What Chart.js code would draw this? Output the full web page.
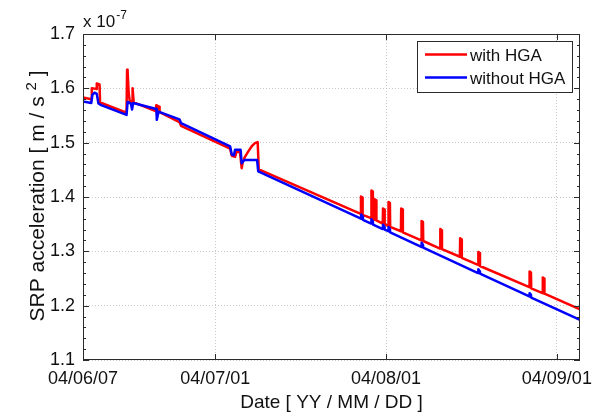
<!DOCTYPE html>
<html>
<head>
<meta charset="utf-8">
<script src="https://cdn.jsdelivr.net/npm/chart.js@4/dist/chart.umd.min.js"></script>
<style>
  html, body { margin: 0; padding: 0; background: #fff; }
  canvas { display: block; }
</style>
</head>
<body>
<canvas id="c" width="610" height="417"></canvas>
<script>
// x values are days elapsed since 2004-06-07; y values in units of 1e-7 m/s^2
const tickDays = [0, 24, 55, 86];
const tickLabels = ['04/06/07', '04/07/01', '04/08/01', '04/09/01'];
const yMajorStep = 0.1;
const yMinorStep = 0.02;

const redDays = [
  0, 1.5, 1.6, 2.4, 2.5, 3.0, 3.1, 7.9, 8.0, 8.1, 8.3, 8.5, 8.9, 9.0, 9.2,
  13.2, 13.3, 13.8, 13.9, 17.5, 17.8, 26.7, 27.0, 27.6, 27.9, 28.5, 28.8,
  29.0, 29.4, 30.0, 30.6, 31.2, 31.7, 31.9,
  50.4, 50.45, 50.7, 50.75,
  52.3, 52.35, 52.6, 52.65,
  52.9, 52.95, 53.2, 53.25,
  54.4, 54.45, 54.7, 54.75,
  55.4, 55.45, 55.7, 55.75,
  57.7, 57.75, 58.0, 58.05,
  61.4, 61.45, 61.7, 61.75,
  64.8, 64.85, 65.1, 65.15,
  68.4, 68.45, 68.7, 68.75,
  71.7, 71.75, 72.0, 72.05,
  81.0, 81.05, 81.3, 81.35,
  83.4, 83.45, 83.7, 83.75,
  90.2
];
const redVals = [
  1.583, 1.580, 1.600, 1.599, 1.609, 1.607, 1.574, 1.555, 1.634, 1.630, 1.590, 1.576, 1.575, 1.600, 1.574,
  1.558, 1.569, 1.566, 1.556, 1.538, 1.531, 1.489, 1.476, 1.474, 1.484, 1.482, 1.453,
  1.465, 1.474, 1.484, 1.493, 1.499, 1.501, 1.451,
  1.369, 1.401, 1.399, 1.367,
  1.361, 1.412, 1.410, 1.359,
  1.358, 1.396, 1.394, 1.357,
  1.351, 1.379, 1.377, 1.350,
  1.347, 1.391, 1.389, 1.345,
  1.337, 1.379, 1.377, 1.335,
  1.320, 1.356, 1.354, 1.319,
  1.305, 1.341, 1.339, 1.304,
  1.290, 1.324, 1.322, 1.288,
  1.275, 1.299, 1.297, 1.273,
  1.234, 1.263, 1.261, 1.232,
  1.223, 1.252, 1.250, 1.222,
  1.193
];

const blueDays = [
  0, 1.5, 1.7, 2.1, 2.5, 2.8, 3.3, 7.9, 8.1, 8.7, 8.9, 9.1,
  13.3, 13.4, 13.7, 17.5, 17.8, 26.7, 27.0, 27.4, 27.6, 28.6, 28.8, 29.3, 31.6, 31.8,
  50.45, 50.5, 50.75, 50.8,
  52.3, 52.35, 52.6, 52.65,
  54.4, 54.45, 54.7, 54.75,
  55.4, 55.45, 55.7, 55.75,
  61.4, 61.45, 61.7, 61.75,
  71.7, 71.75, 72.0, 72.05,
  81.0, 81.05, 81.3, 81.35,
  90.2
];
const blueVals = [
  1.576, 1.573, 1.588, 1.592, 1.590, 1.572, 1.569, 1.551, 1.575, 1.572, 1.561, 1.573,
  1.562, 1.542, 1.557, 1.543, 1.536, 1.493, 1.478, 1.477, 1.487, 1.487, 1.462, 1.468, 1.468, 1.447,
  1.360, 1.368, 1.364, 1.358,
  1.351, 1.359, 1.355, 1.349,
  1.341, 1.349, 1.345, 1.340,
  1.337, 1.345, 1.341, 1.335,
  1.308, 1.316, 1.312, 1.307,
  1.260, 1.267, 1.263, 1.259,
  1.217, 1.223, 1.220, 1.215,
  1.174
];

const FONT = "'Liberation Sans', Arial, Helvetica, sans-serif";
const toPoints = (xs, ys) => xs.map((d, i) => ({ x: d, y: ys[i] }));

// Axes box, inward tick marks, y-axis title, exponent and legend
const decorations = {
  id: 'decorations',
  afterDatasetsDraw(chart) {
    const { ctx, chartArea: a, scales: { x, y } } = chart;
    ctx.save();
    ctx.strokeStyle = '#2b2b2b';
    ctx.lineWidth = 1;
    ctx.strokeRect(a.left + 0.5, a.top + 0.5, a.right - a.left - 1, a.bottom - a.top - 1);

    ctx.beginPath();
    const nMinor = Math.round((y.max - y.min) / yMinorStep);
    for (let k = 0; k <= nMinor; k++) {
      const v = y.min + k * yMinorStep;
      const py = Math.round(y.getPixelForValue(v)) + 0.5;
      const len = (k % Math.round(yMajorStep / yMinorStep) === 0) ? 6 : 3;
      ctx.moveTo(a.left, py); ctx.lineTo(a.left + len, py);
      ctx.moveTo(a.right, py); ctx.lineTo(a.right - len, py);
    }
    tickDays.forEach(d => {
      const px = Math.round(x.getPixelForValue(d)) + 0.5;
      ctx.moveTo(px, a.bottom); ctx.lineTo(px, a.bottom - 6);
      ctx.moveTo(px, a.top); ctx.lineTo(px, a.top + 6);
    });
    ctx.stroke();
    ctx.restore();
  },
  afterDraw(chart) {
    const { ctx, chartArea: a } = chart;
    ctx.save();
    ctx.fillStyle = '#111';
    ctx.textBaseline = 'alphabetic';

    // exponent marker above the y axis
    ctx.font = `17px ${FONT}`;
    ctx.textAlign = 'left';
    const base = 'x 10';
    ctx.fillText(base, a.left, a.top - 7);
    const bw = ctx.measureText(base).width;
    ctx.font = `12px ${FONT}`;
    ctx.fillText('-7', a.left + bw + 1, a.top - 15);

    // y-axis title with superscript
    const parts = [['SRP acceleration [ m / s ', 21, 0], ['2', 15, -8], [' ]', 21, 0]];
    let total = 0;
    parts.forEach(p => { ctx.font = `${p[1]}px ${FONT}`; total += ctx.measureText(p[0]).width; });
    ctx.translate(44, (a.top + a.bottom) / 2 - 1);
    ctx.rotate(-Math.PI / 2);
    let cx = -total / 2;
    parts.forEach(p => {
      ctx.font = `${p[1]}px ${FONT}`;
      ctx.fillText(p[0], cx, p[2]);
      cx += ctx.measureText(p[0]).width;
    });
    ctx.setTransform(1, 0, 0, 1, 0, 0);

    // legend box
    const lx = 417, ly = 41, lw = 155, lh = 51;
    ctx.fillStyle = '#fff';
    ctx.fillRect(lx, ly, lw, lh);
    ctx.strokeStyle = '#2b2b2b';
    ctx.lineWidth = 1;
    ctx.strokeRect(lx + 0.5, ly + 0.5, lw, lh);
    ctx.font = `17px ${FONT}`;
    chart.data.datasets.forEach((ds, i) => {
      const yy = ly + 13.5 + i * 23;
      ctx.strokeStyle = ds.borderColor;
      ctx.lineWidth = 2.5;
      ctx.beginPath();
      ctx.moveTo(lx + 8, yy); ctx.lineTo(lx + 50, yy);
      ctx.stroke();
      ctx.fillStyle = '#111';
      ctx.fillText(ds.label, lx + 53, yy + 6);
    });
    ctx.restore();
  }
};

new Chart(document.getElementById('c'), {
  type: 'line',
  data: {
    datasets: [
      {
        label: 'with HGA',
        data: toPoints(redDays, redVals),
        borderColor: '#ff0000',
        borderWidth: 2.5,
        borderJoinStyle: 'round',
        pointRadius: 0,
        tension: 0,
        order: 2
      },
      {
        label: 'without HGA',
        data: toPoints(blueDays, blueVals),
        borderColor: '#0000ff',
        borderWidth: 2.5,
        borderJoinStyle: 'round',
        pointRadius: 0,
        tension: 0,
        order: 1
      }
    ]
  },
  options: {
    responsive: false,
    animation: false,
    events: [],
    layout: { padding: { left: 0, right: 30, top: 34, bottom: 0 } },
    plugins: { legend: { display: false }, tooltip: { enabled: false } },
    scales: {
      x: {
        type: 'linear',
        min: 0,
        max: 90.2,
        afterBuildTicks: s => { s.ticks = tickDays.map(v => ({ value: v })); },
        afterFit: s => { s.height = 57; s.paddingLeft = 0; s.paddingRight = 0; },
        ticks: {
          autoSkip: false,
          maxRotation: 0,
          padding: 8,
          color: '#111',
          font: { family: FONT, size: 18 },
          callback: (v) => tickLabels[tickDays.indexOf(v)]
        },
        grid: { color: '#c8c8c8', lineWidth: 1, drawTicks: false },
        border: { display: false, dash: [1, 2] },
        title: {
          display: true,
          text: 'Date [ YY / MM / DD ]',
          color: '#111',
          font: { family: FONT, size: 19 },
          padding: { top: 0, bottom: 3 }
        }
      },
      y: {
        min: 1.1,
        max: 1.7,
        afterBuildTicks: s => {
          const t = [];
          for (let k = 0; k <= 6; k++) t.push({ value: +(s.min + k * yMajorStep).toFixed(1) });
          s.ticks = t;
        },
        afterFit: s => { s.width = 83; s.paddingTop = 0; s.paddingBottom = 0; },
        ticks: {
          padding: 8,
          color: '#111',
          font: { family: FONT, size: 18 },
          callback: v => v.toFixed(1)
        },
        grid: { color: '#c8c8c8', lineWidth: 1, drawTicks: false },
        border: { display: false, dash: [1, 2] }
      }
    }
  },
  plugins: [decorations]
});
</script>
</body>
</html>
